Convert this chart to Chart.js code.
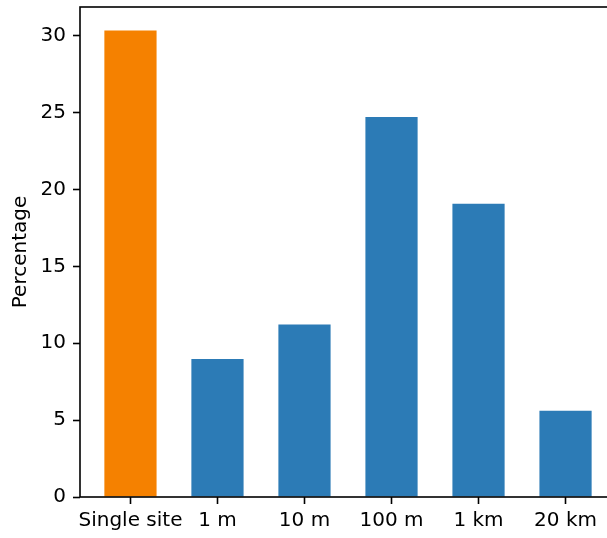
<!DOCTYPE html>
<html>
<head>
<meta charset="utf-8">
<script src="https://cdn.jsdelivr.net/npm/chart.js@4"></script>
<style>
  html, body { margin: 0; padding: 0; background: #fff; overflow: hidden; }
  #wrap { width: 607px; height: 538px; overflow: hidden; }
</style>
</head>
<body>
<div id="wrap"><canvas id="chart" width="620" height="538"></canvas></div>
<script>
// data
const categories = ['Single site', '1 m', '10 m', '100 m', '1 km', '20 km'];
const percentages = [30.34, 8.97, 11.22, 24.71, 19.07, 5.61];
const yTicks = [0, 5, 10, 15, 20, 25, 30];

const ORANGE = 'rgb(245,129,0)';
const BLUE = 'rgb(44,123,182)';
const FONT = { family: 'DejaVu Sans', size: 20 };

// matplotlib draws all four spines, chart.js only the axes
const frame = {
  id: 'frame',
  afterDraw(chart) {
    const { ctx, chartArea: a } = chart;
    ctx.save();
    ctx.strokeStyle = '#000';
    ctx.lineWidth = 1.6;
    ctx.strokeRect(a.left, a.top, a.right - a.left, a.bottom - a.top);
    ctx.restore();
  }
};

const ctx = document.getElementById('chart').getContext('2d');
new Chart(ctx, {
  type: 'bar',
  data: {
    datasets: [{
      data: percentages.map((v, i) => ({ x: i, y: v })),
      backgroundColor: c => (c.dataIndex === 0 ? ORANGE : BLUE),
      barPercentage: 0.6,
      categoryPercentage: 1
    }]
  },
  options: {
    responsive: false,
    devicePixelRatio: 1,
    animation: false,
    layout: { padding: { top: 7, right: 4, left: 0, bottom: 0 } },
    plugins: { legend: { display: false }, tooltip: { enabled: false } },
    scales: {
      x: {
        type: 'linear',
        offset: false,
        min: -0.58,
        max: categories.length - 1 + 0.58,
        afterBuildTicks: s => { s.ticks = categories.map((_, i) => ({ value: i })); },
        afterFit: s => { s.height = 41; s.paddingLeft = 0; s.paddingRight = 0; },
        ticks: {
          callback: v => categories[v],
          font: FONT, color: '#000', padding: 5,
          maxRotation: 0, autoSkip: false
        },
        grid: { offset: false, drawOnChartArea: false, tickLength: 7, tickWidth: 1.6, tickColor: '#000' },
        border: { display: false }
      },
      y: {
        min: 0,
        max: 31.86,
        afterBuildTicks: s => { s.ticks = yTicks.map(v => ({ value: v })); },
        afterFit: s => { s.width = 80; s.paddingTop = 0; s.paddingBottom = 0; },
        ticks: { font: FONT, color: '#000', padding: 7 },
        grid: { drawOnChartArea: false, tickLength: 7, tickWidth: 1.6, tickColor: '#000' },
        border: { display: false },
        title: { display: true, text: 'Percentage', font: FONT, color: '#000', padding: { top: 9, bottom: 0 } }
      }
    }
  },
  plugins: [frame]
});
</script>
</body>
</html>
